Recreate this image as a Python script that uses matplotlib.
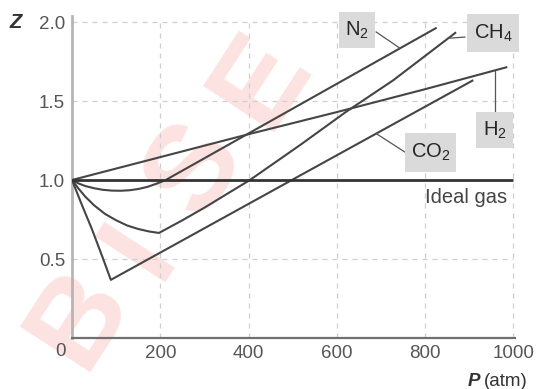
import matplotlib
matplotlib.use("Agg")
import matplotlib.pyplot as plt
from matplotlib.patches import Rectangle

plt.rcParams['font.family'] = ['Liberation Sans', 'DejaVu Sans']
plt.rcParams['mathtext.fontset'] = 'custom'
plt.rcParams['mathtext.rm'] = 'Liberation Sans'
plt.rcParams['mathtext.it'] = 'Liberation Sans:italic'
plt.rcParams['mathtext.bf'] = 'Liberation Sans:bold'

# ---- data ----
ideal_P = [0, 1000]
ideal_Z = [1.0, 1.0]

n2_P = [0, 15, 30, 50, 70, 90, 110, 130, 150, 170, 190, 211, 826]
n2_Z = [1.0, 0.978, 0.962, 0.948, 0.938, 0.933, 0.932, 0.935, 0.943, 0.956, 0.975, 0.998, 1.964]

ch4_P = [0, 15, 30, 50, 75, 100, 125, 150, 175, 197, 250, 300, 350, 403, 516, 620, 727, 870]
ch4_Z = [1.0, 0.945, 0.895, 0.84, 0.785, 0.745, 0.712, 0.69, 0.674, 0.665,
         0.745, 0.825, 0.91, 1.0, 1.22, 1.43, 1.63, 1.935]

co2_P = [0, 22, 45, 68, 88, 498, 909]
co2_Z = [1.0, 0.845, 0.69, 0.52, 0.368, 1.0, 1.632]

h2_P = [0, 200, 400, 600, 800, 986]
h2_Z = [1.0, 1.145, 1.29, 1.43, 1.575, 1.715]

x_ticks = [200, 400, 600, 800, 1000]
y_ticks = [0.5, 1.0, 1.5, 2.0]
x_grid = [200, 400, 600, 800, 1000]
y_grid = [0.5, 1.5, 2.0]

W, H = 536, 389
fig = plt.figure(figsize=(W / 100, H / 100), dpi=100)


def px(x, y):
    return (x / W, 1 - y / H)


ax = fig.add_axes([72 / W, 51 / H, 442.8 / W, 322.3 / H])
ax.set_xlim(0, 1003)
ax.set_ylim(0, 2.04)

# faint watermark
wm_letters = ['B', 'I', 'S', 'E']
wm_pos = [(80, 318), (140, 250), (196, 170), (262, 80)]
for ch, (x, y) in zip(wm_letters, wm_pos):
    fx, fy = px(x, y)
    fig.text(fx, fy, ch, fontsize=88, fontweight='bold', color='#fde2e2',
             rotation=57, ha='center', va='center', zorder=-1)

ax.set_facecolor('none')
fig.patch.set_facecolor('white')

# grid
ax.vlines(x_grid, 0, 2.0, colors='#cfcfcf', linestyles=(0, (4, 4)), linewidth=0.9, zorder=1)
ax.hlines(y_grid, 0, 1000, colors='#cfcfcf', linestyles=(0, (4, 4)), linewidth=0.9, zorder=1)

lc = '#454545'
lw = 1.5
ax.plot(ideal_P, ideal_Z, color='#333333', lw=2.0, zorder=4, solid_capstyle='butt')
ax.plot(n2_P, n2_Z, color=lc, lw=lw, zorder=3, solid_capstyle='butt')
ax.plot(ch4_P, ch4_Z, color=lc, lw=lw, zorder=3, solid_capstyle='butt')
ax.plot(co2_P, co2_Z, color=lc, lw=lw, zorder=3, solid_capstyle='butt')
ax.plot(h2_P, h2_Z, color=lc, lw=lw, zorder=3, solid_capstyle='butt')

# spines
for s in ['top', 'right']:
    ax.spines[s].set_visible(False)
ax.spines['left'].set_color('#b5b5b5')
ax.spines['left'].set_linewidth(2.0)
ax.spines['bottom'].set_color('#707070')
ax.spines['bottom'].set_linewidth(1.6)

ax.set_xticks(x_ticks)
ax.set_xticklabels([str(t) for t in x_ticks])
ax.set_yticks(y_ticks)
ax.set_yticklabels([f"{t:.1f}" for t in y_ticks])
ax.tick_params(length=0, labelsize=13.5, colors='#555555', pad=5)

# origin label
fx, fy = px(60, 352)
fig.text(fx, fy, '0', fontsize=13.5, color='#555555', ha='center', va='center')

# axis labels
fx, fy = px(16, 22.5)
fig.text(fx, fy, 'Z', fontsize=14.5, color='#333333', style='italic', fontweight='bold',
         ha='center', va='center')
fx, fy = px(474, 381)
fig.text(fx, fy, 'P', fontsize=13.5, color='#333333', style='italic', fontweight='bold',
         ha='center', va='center')
fx, fy = px(484, 381)
fig.text(fx, fy, '(atm)', fontsize=13.5, color='#333333', ha='left', va='center')

# Ideal gas label
ax.text(985, 0.892, 'Ideal gas', fontsize=14.5, color='#444444', ha='right', va='center', zorder=5)

# label boxes
boxes = [
    ('N$_2$', 339, 12, 36, 36),
    ('CH$_4$', 467, 14, 52, 38),
    ('H$_2$', 476, 112, 37, 36),
    ('CO$_2$', 405, 133, 51, 39),
]
for label, x0, y0, w, h in boxes:
    bx, by = px(x0, y0 + h)
    fig.patches.append(Rectangle((bx, by), w / W, h / H, transform=fig.transFigure,
                                 facecolor='#dadada', edgecolor='none', zorder=2))
    cx, cy = px(x0 + w / 2, y0 + h / 2)
    fig.text(cx, cy, label, fontsize=14.5, color='#262626', ha='center', va='center', zorder=6)

# leader lines
leaders = [
    ((689, 1.937), (743, 1.834)),
    ((890, 1.905), (852, 1.897)),
    ((958, 1.43), (958, 1.69)),
    ((754, 1.177), (689, 1.294)),
]
for (a, b) in leaders:
    ax.plot([a[0], b[0]], [a[1], b[1]], color='#555555', lw=0.9, zorder=3)

fig.savefig('out.png', dpi=100)
